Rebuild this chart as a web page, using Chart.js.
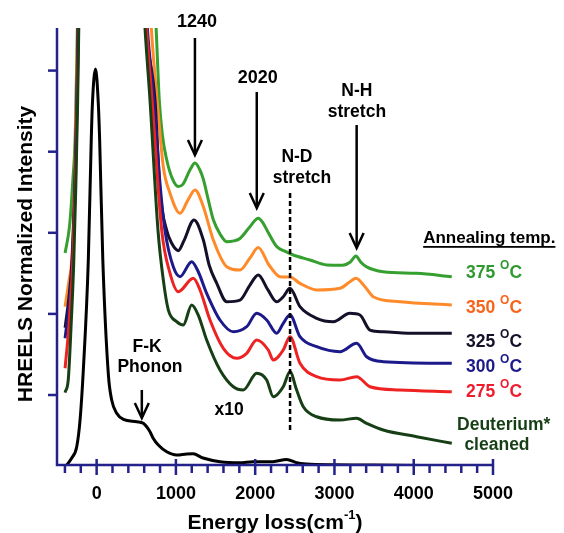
<!DOCTYPE html>
<html><head><meta charset="utf-8">
<script src="https://cdn.jsdelivr.net/npm/chart.js@4.4.1/dist/chart.umd.min.js"></script>
<style>html,body{margin:0;padding:0;background:#fff}#wrap{width:564px;height:533px;position:relative}</style>
</head><body><div id="wrap"><canvas id="c" width="564" height="533"></canvas></div>
<script>
// ---------- data ----------
const xTickValues = [0, 1000, 2000, 3000, 4000, 5000];
const yTickValues = [1, 2, 3, 4, 5];
const seriesLabels = ['375', '350', '325', '300', '275', 'Deuterium* cleaned'];

const energyElastic = [-377,-314,-251,-209,-168,-105,-68,-54,-14,22,38,78,148,190,253,337,506,589,673,711,778,884,1010,1136,1216,1342,1556,1808,1972,2224,2397,2523,2649,3000,3485,4368];
const intensityElastic = [0.137,0.223,0.363,0.692,1.308,2.665,4.144,4.576,5.02,4.576,4.144,2.665,1.25,0.938,0.774,0.70,0.671,0.651,0.547,0.47,0.383,0.30,0.26,0.272,0.275,0.223,0.178,0.165,0.178,0.178,0.205,0.165,0.15,0.14,0.137,0.13];

const energy375 = [-398,-340,-300,-270,-243,-235,0,720,750,790,830,884,950,1030,1090,1180,1241,1300,1346,1410,1472,1560,1641,1730,1808,1934,2039,2100,2161,2271,2380,2480,2691,2902,3100,3200,3271,3330,3406,3615,4037,4480];
const intensity375 = [2.75,3.1,3.65,4.2,5.525,6.0,null,6.0,5.525,4.64,4.2,3.9,3.68,3.57,3.6,3.78,3.86,3.78,3.66,3.4,3.16,2.98,2.89,2.9,2.93,3.075,3.18,3.12,3.01,2.83,2.77,2.726,2.665,2.603,2.6,2.64,2.714,2.64,2.58,2.52,2.5,2.459];

const energy350 = [-398,-350,-314,-280,-255,-232,0,665,690,774,841,926,1052,1150,1241,1346,1472,1641,1808,1934,2039,2174,2313,2439,2565,2776,3071,3200,3271,3385,3489,3826,4480];
const intensity350 = [2.09,2.4,2.665,3.5,4.6,6.0,null,6.0,5.525,4.51,3.815,3.487,3.24,3.4,3.528,3.322,2.911,2.582,2.541,2.689,2.819,2.603,2.459,2.455,2.377,2.295,2.316,2.4,2.439,2.335,2.212,2.15,2.11];

const energy325 = [-398,-350,-310,-275,-250,-228,0,600,625,736,800,884,947,1030,1100,1228,1346,1420,1514,1641,1808,1934,2039,2161,2271,2354,2439,2565,2776,2985,3195,3322,3448,3615,4037,4480];
const intensity325 = [1.83,2.2,2.665,3.6,4.6,6.0,null,6.0,5.525,4.64,3.5,3.03,2.87,2.78,2.9,3.158,2.911,2.6,2.38,2.15,2.17,2.356,2.48,2.295,2.15,2.212,2.316,2.089,1.946,1.904,2.007,1.986,1.801,1.78,1.76,1.76];

const energy300 = [-398,-350,-305,-272,-248,-226,0,615,640,724,800,862,967,1052,1199,1282,1388,1556,1724,1893,2019,2145,2271,2354,2439,2565,2776,3069,3280,3406,3615,4480];
const intensity300 = [1.70,2.1,2.665,3.6,4.6,6.0,null,6.0,5.525,4.64,3.6,3.03,2.58,2.459,2.644,2.52,2.254,1.925,1.78,1.842,2.007,1.925,1.761,1.884,1.986,1.719,1.596,1.534,1.637,1.472,1.411,1.391];

const energy275 = [-398,-350,-300,-268,-245,-222,0,605,630,699,821,926,1030,1219,1304,1430,1598,1767,1893,2019,2165,2228,2354,2439,2565,2776,3069,3280,3448,3826,4480];
const intensity275 = [1.33,1.85,2.665,3.6,4.6,6.0,null,6.0,5.525,4.64,3.03,2.50,2.274,2.439,2.295,1.925,1.576,1.453,1.514,1.678,1.555,1.432,1.555,1.719,1.391,1.226,1.185,1.226,1.102,1.062,1.041];

const energyD = [-398,-357,-320,-290,-262,-240,-218,0,585,610,673,774,841,904,1010,1093,1199,1282,1388,1556,1724,1850,2019,2145,2228,2354,2439,2523,2607,2776,3069,3280,3406,3615,4037,4480];
const intensityD = [1.03,1.2,1.9,2.6,3.6,4.6,6.0,null,6.0,5.525,4.64,3.03,2.42,2.05,1.904,1.863,2.11,1.986,1.678,1.308,1.102,1.062,1.268,1.185,0.979,1.102,1.287,1.062,0.856,0.732,0.692,0.713,0.651,0.568,0.486,0.404];

// ---------- styling ----------
const AXIS = '#22228a';
const colors = { c375:'#35a02f', c350:'#ff8a2a', c325:'#15102a', c300:'#1c1a8a', c275:'#ee2222', cD:'#163f16', el:'#000000' };
const FONT = '"Liberation Sans", Arial, sans-serif';

function pts(xs, ys) { return xs.map((x, i) => ({ x: x, y: ys[i] })); }
function ds(xs, ys, color) {
  return { data: pts(xs, ys), borderColor: color, borderWidth: 3, pointRadius: 0,
    showLine: true, spanGaps: false, cubicInterpolationMode: 'monotone', fill: false };
}

const annotate = {
  id: 'annotate',
  afterDatasetsDraw(chart) {
    const { ctx, scales: { x, y }, chartArea: ca } = chart;
    const X = v => x.getPixelForValue(v), Y = v => y.getPixelForValue(v);
    ctx.save();
    ctx.strokeStyle = AXIS; ctx.lineWidth = 2.5; ctx.lineCap = 'butt';
    ctx.beginPath(); ctx.moveTo(ca.left, ca.top); ctx.lineTo(ca.left, ca.bottom); ctx.lineTo(ca.right, ca.bottom); ctx.stroke();
    yTickValues.forEach(v => { ctx.beginPath(); ctx.moveTo(ca.left - 9, Y(v)); ctx.lineTo(ca.left, Y(v)); ctx.stroke(); });
    for (let v = -400; v <= 4800; v += 200) {
      const px = X(v);
      ctx.beginPath();
      if (v % 1000 === 0) { ctx.moveTo(px, ca.bottom - 6); ctx.lineTo(px, ca.bottom + 10); }
      else { ctx.moveTo(px, ca.bottom); ctx.lineTo(px, ca.bottom + 8); }
      ctx.stroke();
    }
    ctx.beginPath(); ctx.moveTo(X(5000), ca.bottom - 6); ctx.lineTo(X(5000), ca.bottom + 10); ctx.stroke();
    ctx.restore();
  },
  afterDraw(chart) {
    const { ctx, scales: { x, y } } = chart;
    const X = v => x.getPixelForValue(v), Y = v => y.getPixelForValue(v);
    ctx.save();
    const txt = (s, px, py, size, align, color) => {
      ctx.font = 'bold ' + size + 'px ' + FONT; ctx.fillStyle = color || '#000';
      ctx.textAlign = align || 'center'; ctx.textBaseline = 'middle'; ctx.fillText(s, px, py);
    };
    const arrow = (px, y0, y1) => {
      ctx.strokeStyle = '#000'; ctx.lineWidth = 2.5; ctx.lineCap = 'butt';
      ctx.beginPath(); ctx.moveTo(px, y0); ctx.lineTo(px, y1 - 1); ctx.stroke();
      ctx.lineJoin = 'miter';
      ctx.beginPath(); ctx.moveTo(px - 7, y1 - 15); ctx.lineTo(px, y1); ctx.lineTo(px + 7, y1 - 15); ctx.stroke();
    };
    txt('1240', X(1240) + 2, Y(5.599), 18);
    arrow(X(1240), Y(5.402), Y(3.959));
    txt('2020', X(2020) + 1, Y(4.909), 18);
    arrow(X(2020), Y(4.736), Y(3.306));
    txt('N-D', X(2527), Y(3.935), 17.5);
    txt('stretch', X(2590), Y(3.676), 17.5);
    ctx.save(); ctx.setLineDash([5, 3]); ctx.lineWidth = 2.5; ctx.strokeStyle = '#000';
    ctx.beginPath(); ctx.moveTo(X(2440), Y(3.491)); ctx.lineTo(X(2440), Y(0.544)); ctx.stroke(); ctx.restore();
    txt('N-H', X(3283), Y(4.748), 17.5);
    txt('stretch', X(3283), Y(4.49), 17.5);
    arrow(X(3280), Y(4.329), Y(2.813));
    txt('F-K', X(636), Y(1.592), 17.5);
    txt('Phonon', X(673), Y(1.345), 17.5);
    arrow(X(570), Y(1.062), Y(0.716));
    txt('x10', X(1670), Y(0.815), 17.5, 'center');
    // legend block
    ctx.font = 'bold 17px ' + FONT; ctx.textAlign = 'left'; ctx.textBaseline = 'middle';
    const ax = X(4119), ay = Y(2.936);
    ctx.fillStyle = '#000'; ctx.fillText('Annealing temp.', ax, ay);
    const w = ctx.measureText('Annealing temp.').width;
    ctx.fillRect(ax, ay + 8, w, 1.8);
    const temp = (num, v, color) => {
      const px = X(4660), py = Y(v);
      ctx.fillStyle = color; ctx.font = 'bold 17.5px ' + FONT; ctx.textAlign = 'left'; ctx.textBaseline = 'middle';
      const s = num + ' ';
      ctx.fillText(s, px, py);
      let cx = px + ctx.measureText(s).width;
      ctx.font = 'bold 12px ' + FONT; ctx.fillText('O', cx, py - 7);
      cx += ctx.measureText('O').width;
      ctx.font = 'bold 17.5px ' + FONT; ctx.fillText('C', cx, py);
    };
    temp(seriesLabels[0], 2.505, '#2e9a2e');
    temp(seriesLabels[1], 2.074, '#f8641c');
    temp(seriesLabels[2], 1.654, '#15102a');
    temp(seriesLabels[3], 1.345, '#1c1a8a');
    temp(seriesLabels[4], 1.037, '#ee1c2c');
    txt('Deuterium*', X(5135), Y(0.63), 17.5, 'center', '#163f16');
    txt('cleaned', X(5050), Y(0.383), 17.5, 'center', '#163f16');
    // axis titles
    ctx.fillStyle = '#000'; ctx.textBaseline = 'alphabetic';
    const t1 = 'Energy loss(cm', t2 = '-1', t3 = ')';
    ctx.font = 'bold 21px ' + FONT;
    const w1 = ctx.measureText(t1).width, w3 = ctx.measureText(t3).width;
    ctx.font = 'bold 13px ' + FONT; const w2 = ctx.measureText(t2).width;
    const total = w1 + w2 + w3; let sx = 275 - total / 2; const by = 529;
    ctx.textAlign = 'left';
    ctx.font = 'bold 21px ' + FONT; ctx.fillText(t1, sx, by); sx += w1;
    ctx.font = 'bold 13px ' + FONT; ctx.fillText(t2, sx, by - 10); sx += w2;
    ctx.font = 'bold 21px ' + FONT; ctx.fillText(t3, sx, by);
    ctx.save(); ctx.translate(32, 254); ctx.rotate(-Math.PI / 2);
    ctx.font = 'bold 21px ' + FONT; ctx.textAlign = 'center'; ctx.textBaseline = 'alphabetic';
    ctx.fillText('HREELS Normalized Intensity', 0, 0); ctx.restore();
    ctx.restore();
  }
};

new Chart(document.getElementById('c'), {
  type: 'scatter',
  data: { datasets: [
    ds(energyD, intensityD, colors.cD),
    ds(energy275, intensity275, colors.c275),
    ds(energy300, intensity300, colors.c300),
    ds(energy325, intensity325, colors.c325),
    ds(energy350, intensity350, colors.c350),
    ds(energy375, intensity375, colors.c375),
    ds(energyElastic, intensityElastic, colors.el)
  ]},
  options: {
    responsive: false, animation: false, devicePixelRatio: 1,
    layout: { padding: { left: 0, right: 71, top: 28, bottom: 0 } },
    plugins: { legend: { display: false }, tooltip: { enabled: false } },
    scales: {
      x: { type: 'linear', min: -500, max: 5000,
        afterBuildTicks: s => { s.ticks = xTickValues.map(v => ({ value: v })); },
        afterFit: s => { s.height = 533 - 465; },
        grid: { display: false, drawTicks: false }, border: { display: false },
        ticks: { color: '#000', font: { family: FONT, size: 18, weight: 'bold' }, padding: 18, maxRotation: 0, autoSkip: false,
          callback: v => String(v) } },
      y: { type: 'linear', min: 0.137, max: 5.525,
        afterFit: s => { s.width = 57; },
        grid: { display: false, drawTicks: false }, border: { display: false },
        ticks: { display: false } }
    }
  },
  plugins: [annotate]
});
</script></body></html>
